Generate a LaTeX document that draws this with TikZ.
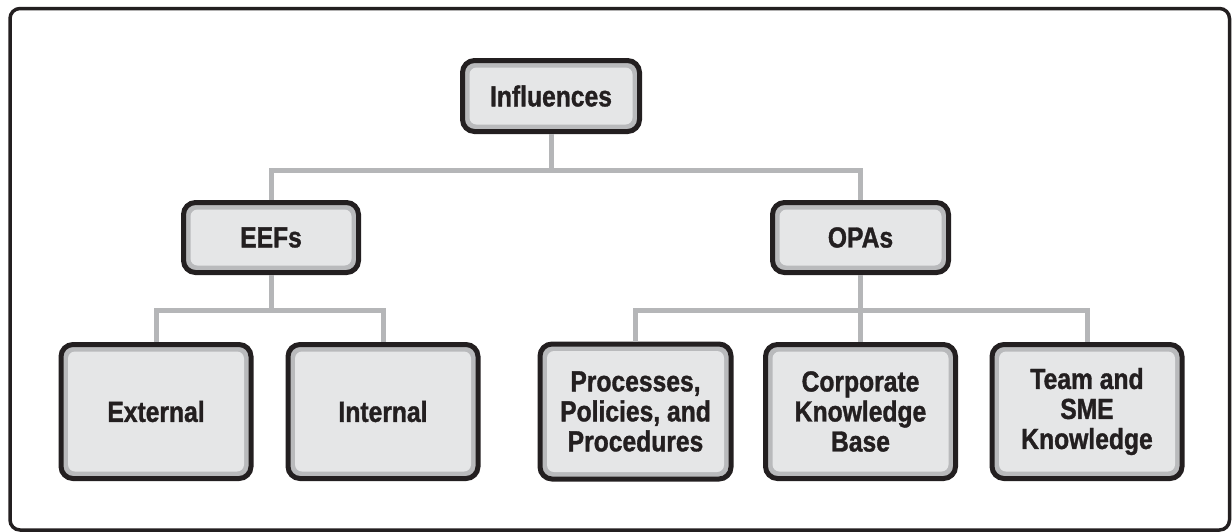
\documentclass[tikz,border=0pt]{standalone}
\usepackage{fontspec}
\setmainfont{Liberation Sans}[FakeStretch=0.85, FakeBold=1.2]
\usepackage{tikz}
\usetikzlibrary{positioning}

\definecolor{boxline}{HTML}{231F20}
\definecolor{boxband}{HTML}{B9BABC}
\definecolor{boxfill}{HTML}{E5E6E7}
\definecolor{linkgray}{HTML}{B5B6B8}

\tikzset{
  infbox/.style={draw=boxline, line width=5pt, fill=boxband, rounded corners=12pt,
    align=center, inner sep=0pt, text=boxline,
    font=\bfseries\fontsize{29}{30}\selectfont,
    path picture={\fill[boxfill, rounded corners=7pt]
      ([shift={(7pt,7pt)}]path picture bounding box.south west) rectangle
      ([shift={(-7pt,-7pt)}]path picture bounding box.north east);}},
  link/.style={draw=linkgray, line width=5pt},
  frame/.style={draw=boxline, line width=3.5pt, rounded corners=10pt}
}

\begin{document}
\begin{tikzpicture}[x=1pt, y=-1pt]

\useasboundingbox (0,0) rectangle (1232,531);

% outer frame
\draw[frame] (10,8.5) rectangle (1229.5,530);

% ===============================================================
% Top: Influences
% ===============================================================

\node[infbox, minimum width=177pt, minimum height=71pt] (infl) at (551,96) {Influences};

% ===============================================================
% Middle row: EEFs / OPAs
% ===============================================================

\node[infbox, minimum width=175pt, minimum height=70pt] (eefs) at (271,237.5) {EEFs};
\node[infbox, minimum width=176pt, minimum height=70pt] (opas) at (860.5,237.5) {OPAs};

% ===============================================================
% Bottom row
% ===============================================================

\node[infbox, minimum width=190pt, minimum height=134pt] (extern) at (156,411.5) {External};
\node[infbox, minimum width=190pt, minimum height=134pt] (intern) at (383,411.5) {Internal};

\node[infbox, minimum width=191pt, minimum height=135pt] (procs) at (635.5,411.5) {Processes,\\Policies, and\\Procedures};
\node[infbox, minimum width=190pt, minimum height=134pt] (corpkb) at (860.5,411.5) {Corporate\\Knowledge\\Base};
\node[infbox, minimum width=190pt, minimum height=134pt] (teamsme) at (1087,411.5) {Team and\\SME\\Knowledge};

% ===============================================================
% Connectors
% ===============================================================

% junctions on the horizontal bars
\coordinate (jtop) at (infl.south |- 0,170);
\coordinate (jeef) at (eefs.south |- 0,310);
\coordinate (jopa) at (opas.south |- 0,310);

\draw[link] (infl.south) -- (jtop);
\draw[link] (eefs.north) |- (jtop) -| (opas.north);

\draw[link] (eefs.south) -- (jeef);
\draw[link] (extern.north) |- (jeef) -| (intern.north);

\draw[link] (opas.south) -- (jopa);
\draw[link] (procs.north) |- (jopa) -| (teamsme.north);
\draw[link] (jopa) -- (corpkb.north);

\end{tikzpicture}
\end{document}
